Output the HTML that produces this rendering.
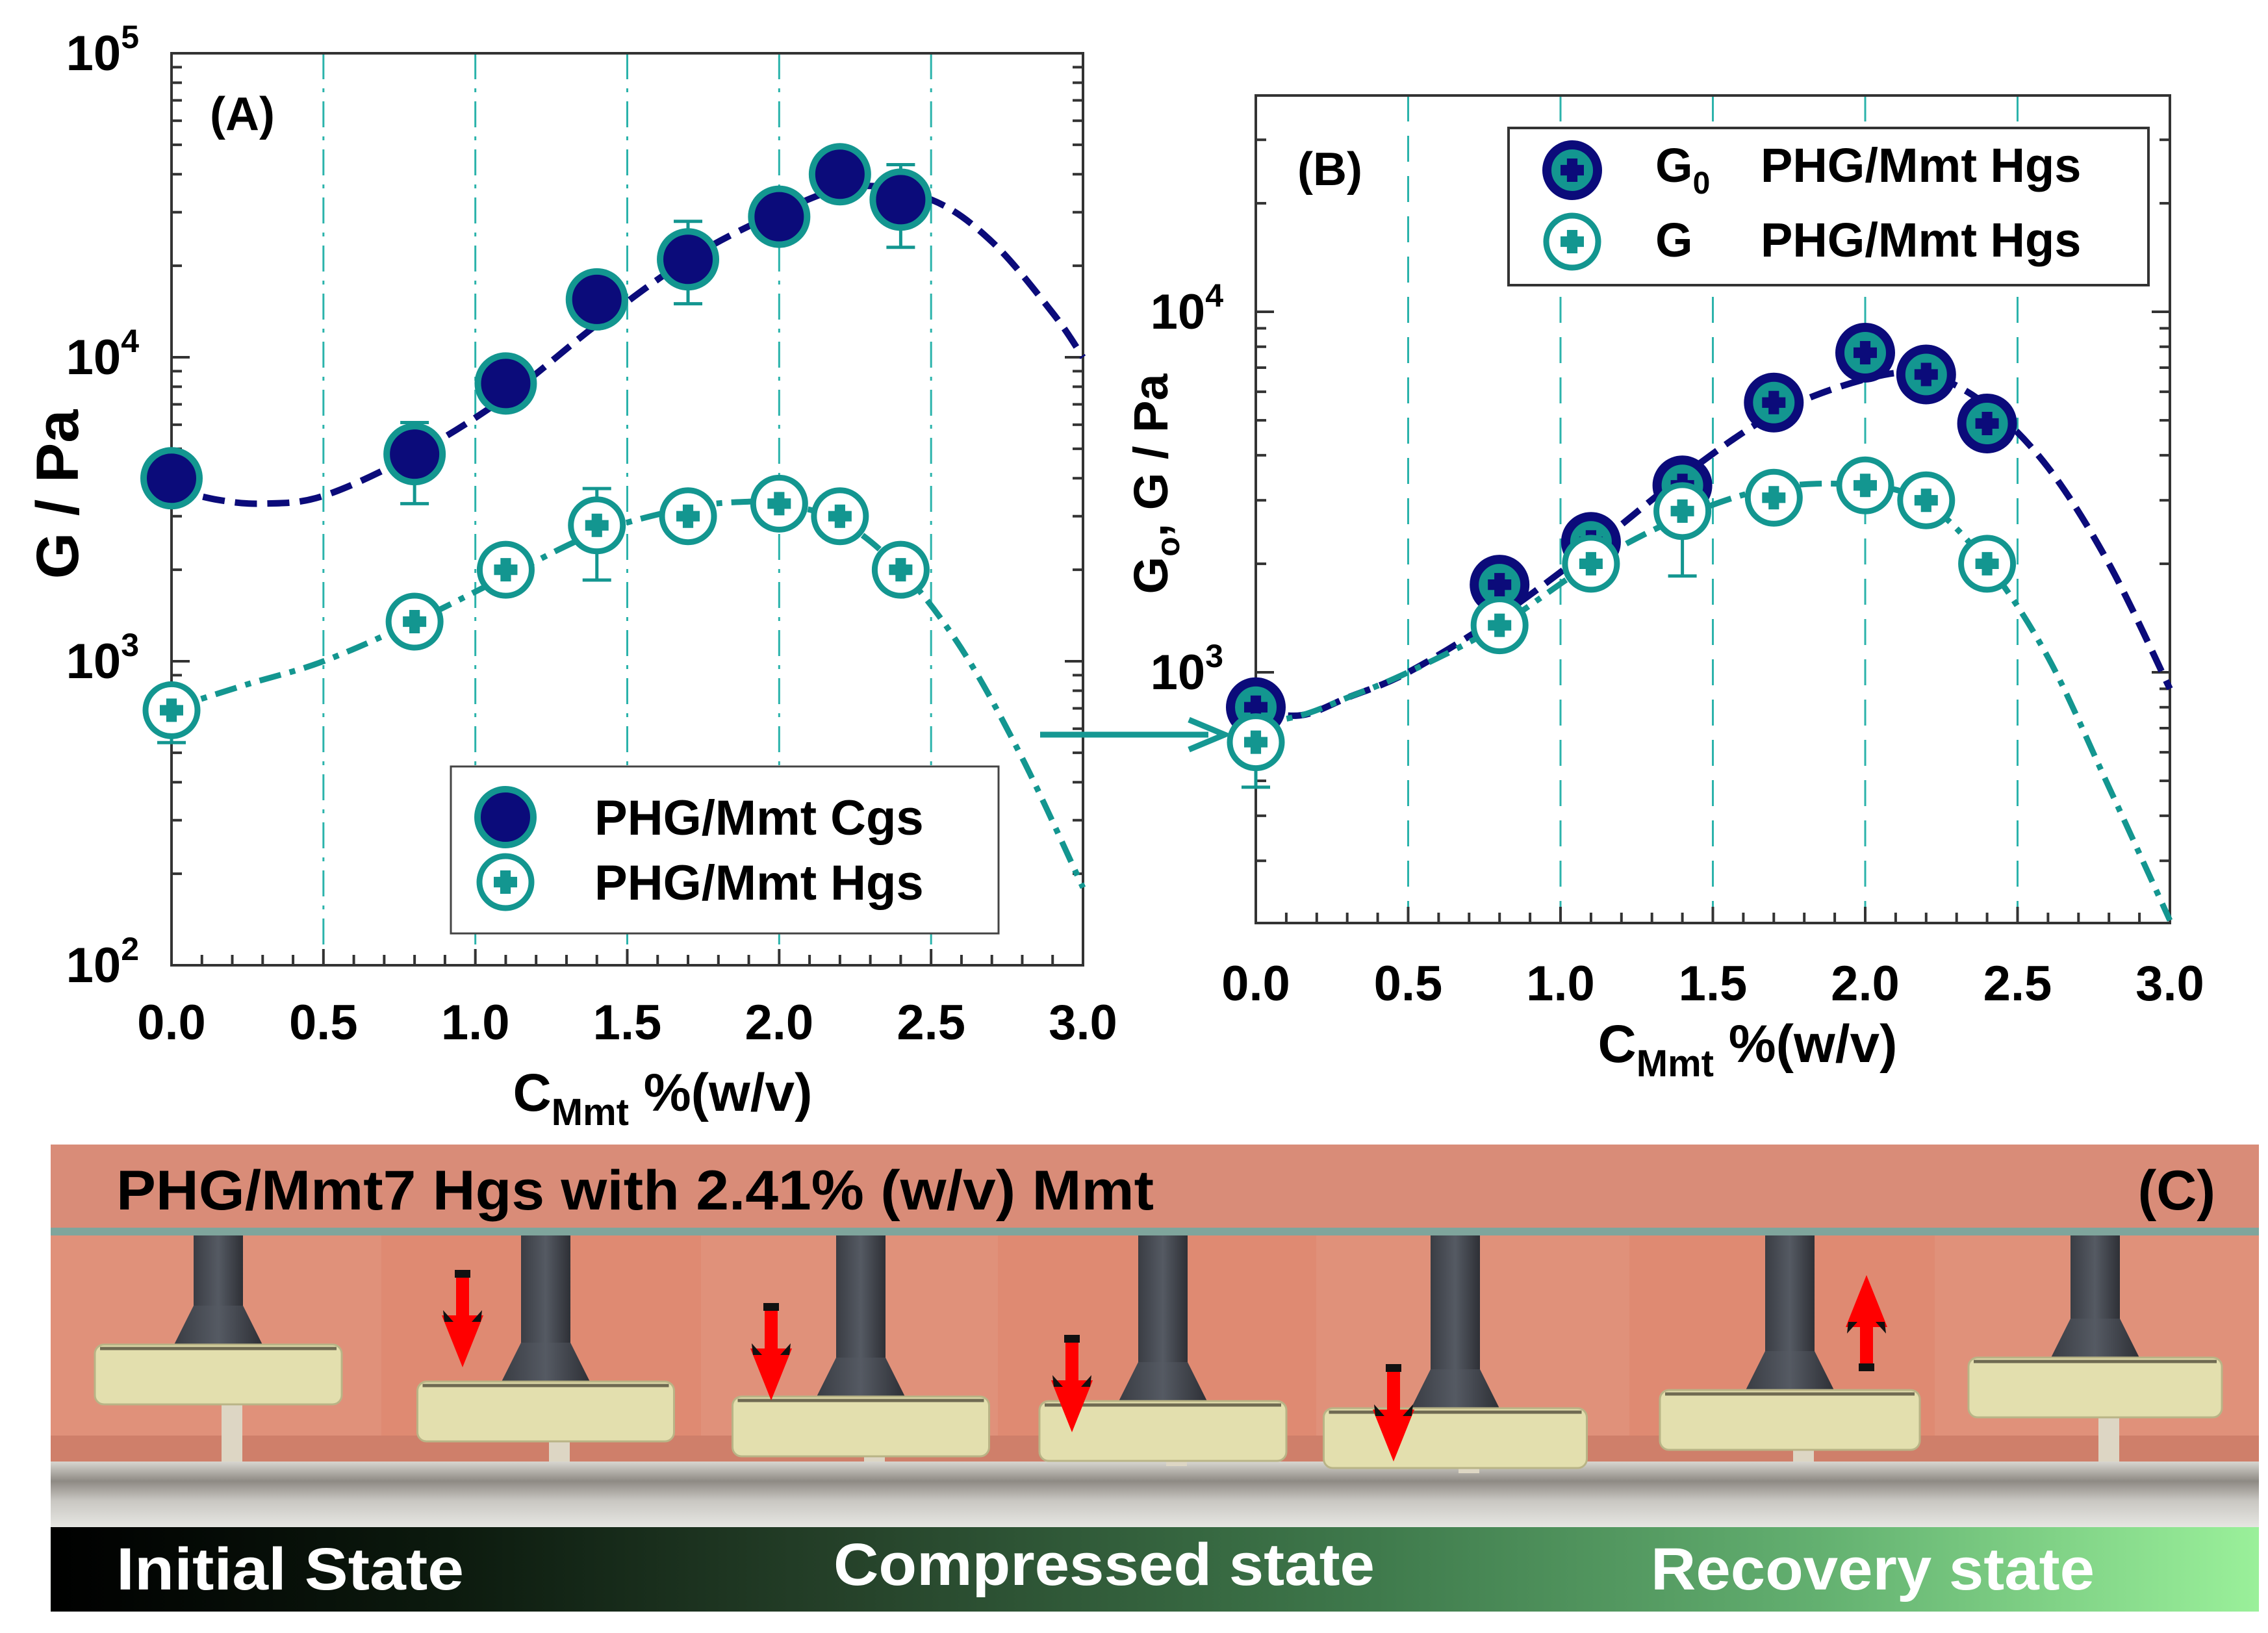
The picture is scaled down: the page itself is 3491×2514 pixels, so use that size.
<!DOCTYPE html>
<html><head><meta charset="utf-8"><style>
html,body{margin:0;padding:0;background:#fff;}
svg{display:block;font-family:"Liberation Sans",Arial,sans-serif;}
</style></head><body>
<svg id="fig" width="3491" height="2514" viewBox="0 0 3491 2514" xmlns="http://www.w3.org/2000/svg">
<defs>
<linearGradient id="barGrad" x1="0" x2="1" y1="0" y2="0">
<stop offset="0" stop-color="#000"/><stop offset="0.18" stop-color="#0c1a0e"/><stop offset="0.35" stop-color="#243f28"/><stop offset="0.6" stop-color="#3f7a4c"/><stop offset="0.8" stop-color="#63b070"/><stop offset="1" stop-color="#9af09a"/>
</linearGradient>
<linearGradient id="baseGrad" x1="0" x2="0" y1="0" y2="1">
<stop offset="0" stop-color="#d8d6d0"/><stop offset="0.3" stop-color="#8e8a84"/><stop offset="0.6" stop-color="#c9c7c2"/><stop offset="1" stop-color="#e6e6e2"/>
</linearGradient>
<linearGradient id="postGrad" x1="0" x2="1" y1="0" y2="0">
<stop offset="0" stop-color="#3a3d44"/><stop offset="0.5" stop-color="#555a63"/><stop offset="1" stop-color="#2e3036"/>
</linearGradient>
</defs>
<g id="chartA"></g>
<g id="chartB"></g>
<g>
<line x1="1601" y1="1131" x2="1860" y2="1131" stroke="#169893" stroke-width="9"/>
<path d="M1830,1108 L1885,1131 L1830,1154" fill="none" stroke="#169893" stroke-width="9"/>
</g>
<g id="panelC">
<rect x="78" y="1762" width="3399" height="135" fill="#d98c78"/>
<text x="179" y="1862" font-size="86" font-weight="bold" fill="#000" textLength="1597" lengthAdjust="spacingAndGlyphs">PHG/Mmt7 Hgs with 2.41% (w/v) Mmt</text>
<text x="3410" y="1862" font-size="86" font-weight="bold" fill="#000" text-anchor="end">(C)</text>
<rect x="78" y="1890" width="3399" height="12" fill="#7fa59c"/>
<g id="frames"></g>
<rect x="78" y="2351" width="3399" height="130" fill="url(#barGrad)"/>
<text x="179" y="2447" font-size="92" font-weight="bold" fill="#fff" textLength="535" lengthAdjust="spacingAndGlyphs">Initial State</text>
<text x="1283" y="2440" font-size="92" font-weight="bold" fill="#fff" textLength="833" lengthAdjust="spacingAndGlyphs">Compressed state</text>
<text x="2541" y="2447" font-size="92" font-weight="bold" fill="#fff" textLength="683" lengthAdjust="spacingAndGlyphs">Recovery state</text>
</g>
</svg>
<script>
// ---------- Chart data ----------
const xTicks = [0.0, 0.5, 1.0, 1.5, 2.0, 2.5, 3.0];
const xTickLabels = ["0.0","0.5","1.0","1.5","2.0","2.5","3.0"];
// Panel A
const aX = [0.0, 0.8, 1.1, 1.4, 1.7, 2.0, 2.2, 2.4];
const aCgs = [4000, 4800, 8200, 15500, 21000, 29000, 40000, 33000];
const aCgsErrLo = [null, 3300, null, null, 15000, null, null, 23000];
const aCgsErrHi = [null, 6100, null, null, 28000, null, null, 43000];
const aHgs = [690, 1350, 2000, 2800, 3000, 3300, 3000, 2000];
const aHgsErrLo = [540, null, null, 1850, null, null, null, null];
const aHgsErrHi = [null, null, null, 3700, null, null, null, null];
const aFitX = [0.0, 0.15, 0.3, 0.5, 0.8, 1.1, 1.4, 1.7, 2.0, 2.25, 2.5, 2.7, 2.9, 3.0];
const aFitCgs = [3700, 3400, 3300, 3500, 4800, 7400, 12800, 21000, 30000, 36500, 33000, 24000, 14000, 10000];
const aFitX2 = [0.0, 0.25, 0.5, 0.8, 1.1, 1.4, 1.7, 1.9, 2.0, 2.2, 2.4, 2.6, 2.8, 3.0];
const aFitHgs = [700, 840, 1000, 1350, 1900, 2650, 3200, 3350, 3300, 2900, 2000, 1100, 480, 180];
const aYTickExp = [2, 3, 4, 5];
// Panel B
const bX = [0.0, 0.8, 1.1, 1.4, 1.7, 2.0, 2.2, 2.4];
const bG0 = [800, 1750, 2300, 3300, 5600, 7700, 6700, 4900];
const bG = [640, 1350, 2000, 2800, 3050, 3300, 3000, 2000];
const bGErrLo = [480, null, null, 1850, null, null, null, null];
const bGErrHi = [null, null, null, null, null, null, null, null];
const bFitX = [0.0, 0.15, 0.3, 0.5, 0.8, 1.1, 1.4, 1.7, 2.0, 2.2, 2.4, 2.6, 2.8, 3.0];
const bFitG0 = [780, 760, 850, 1000, 1430, 2200, 3500, 5200, 6500, 6700, 5500, 3700, 2000, 900];
const bFitG = [720, 760, 850, 1000, 1350, 2000, 2700, 3250, 3300, 2950, 2000, 1100, 480, 205];
const bYTickExp = [3, 4];

const NS = "http://www.w3.org/2000/svg";
const NAVY = "#0b0b7a", TEAL = "#139690";
function el(parent, tag, attrs) {
  const e = document.createElementNS(NS, tag);
  for (const k in attrs) e.setAttribute(k, attrs[k]);
  parent.appendChild(e);
  return e;
}
function makeAxes(cfg) {
  const xs = v => cfg.L + (v - 0) / 3 * (cfg.R - cfg.L);
  const ys = v => cfg.yAt(Math.log10(v));
  return {xs, ys};
}
function smoothPath(pts) {
  let d = "M" + pts[0][0].toFixed(1) + "," + pts[0][1].toFixed(1);
  for (let i = 0; i < pts.length - 1; i++) {
    const p0 = pts[Math.max(0, i - 1)], p1 = pts[i], p2 = pts[i + 1], p3 = pts[Math.min(pts.length - 1, i + 2)];
    const c1 = [p1[0] + (p2[0] - p0[0]) / 6, p1[1] + (p2[1] - p0[1]) / 6];
    const c2 = [p2[0] - (p3[0] - p1[0]) / 6, p2[1] - (p3[1] - p1[1]) / 6];
    d += " C" + c1[0].toFixed(1) + "," + c1[1].toFixed(1) + " " + c2[0].toFixed(1) + "," + c2[1].toFixed(1) + " " + p2[0].toFixed(1) + "," + p2[1].toFixed(1);
  }
  return d;
}
function drawFrame(g, cfg, xs, ys) {
  [0.5, 1.0, 1.5, 2.0, 2.5].forEach(v => {
    const ln = el(g, "line", {x1: xs(v), x2: xs(v), y1: cfg.T, y2: cfg.B, stroke: "#2bb3ab", "stroke-width": 3, "stroke-dasharray": cfg.gridDash});
    
    
  });
  const frame = el(g, "rect", {x: cfg.L, y: cfg.T, width: cfg.R - cfg.L, height: cfg.B - cfg.T, fill: "none", stroke: "#333", "stroke-width": 4});
  
  
  for (let i = 0; i <= 30; i++) {
    const v = i / 10, major = i % 5 === 0;
    el(g, "line", {x1: xs(v), x2: xs(v), y1: cfg.B, y2: cfg.B - (major ? 25 : 16), stroke: "#333", "stroke-width": 4});
  }
  xTicks.forEach((v, i) => {
    const t = el(g, "text", {x: xs(v), y: cfg.tickLabelY, "font-size": 76, "font-weight": "bold", "text-anchor": "middle"});
    t.textContent = xTickLabels[i];
    
    
  });
  for (let e = cfg.eMin; e <= cfg.eMax; e++) {
    for (let m = 1; m <= 9; m++) {
      const v = m * Math.pow(10, e);
      const y = ys(v);
      if (y < cfg.T - 1 || y > cfg.B + 1) continue;
      const len = m === 1 ? 28 : 16;
      el(g, "line", {x1: cfg.L, x2: cfg.L + len, y1: y, y2: y, stroke: "#333", "stroke-width": 4});
      el(g, "line", {x1: cfg.R, x2: cfg.R - len, y1: y, y2: y, stroke: "#333", "stroke-width": 4});
    }
  }
  cfg.yExp.forEach(e => {
    const t = el(g, "text", {x: cfg.L - 50, y: ys(Math.pow(10, e)) + 26, "font-size": 76, "font-weight": "bold", "text-anchor": "end"});
    t.textContent = "10";
    const s = el(t, "tspan", {dy: -34, "font-size": 50});
    s.textContent = String(e);
    
    
  });
}
function errBars(g, xArr, lo, hi, vals, xs, ys, color) {
  xArr.forEach((x, i) => {
    [lo[i], hi[i]].forEach(v => {
      if (v == null) return;
      const l = el(g, "line", {x1: xs(x), x2: xs(x), y1: ys(vals[i]), y2: ys(v), stroke: color, "stroke-width": 5});
      
      
      el(g, "line", {x1: xs(x) - 22, x2: xs(x) + 22, y1: ys(v), y2: ys(v), stroke: color, "stroke-width": 5});
    });
  });
}
function plus(g, cx, cy, color, s) {
  el(g, "path", {d: `M${cx - s},${cy - s * 0.45} h${s * 0.55} v-${s * 0.55} h${s * 0.9} v${s * 0.55} h${s * 0.55} v${s * 0.9} h-${s * 0.55} v${s * 0.55} h-${s * 0.9} v-${s * 0.55} h-${s * 0.55} z`, fill: color});
}
function markerFilled(g, cx, cy) {
  return el(g, "circle", {cx, cy, r: 43, fill: NAVY, stroke: TEAL, "stroke-width": 10});
}
function markerOpen(g, cx, cy) {
  const c = el(g, "circle", {cx, cy, r: 40, fill: "#fff", stroke: TEAL, "stroke-width": 9});
  plus(g, cx, cy, TEAL, 18);
  return c;
}
function markerG0(g, cx, cy) {
  const c = el(g, "circle", {cx, cy, r: 39, fill: TEAL, stroke: NAVY, "stroke-width": 14});
  plus(g, cx, cy, NAVY, 18);
  return c;
}

// ---------- Chart A ----------
(function () {
  const g = document.getElementById("chartA");
  const cfg = {L: 264, R: 1667, T: 82, B: 1486, eMin: 2, eMax: 5, yExp: aYTickExp, tickLabelY: 1600, gridDash: "40 14 6 14"};
  cfg.yAt = l => cfg.B - (l - 2) / 3 * (cfg.B - cfg.T);
  const {xs, ys} = makeAxes(cfg);
  drawFrame(g, cfg, xs, ys);
  const yl = el(g, "text", {x: 0, y: 0, transform: "translate(120,761) rotate(-90)", "font-size": 92, "font-weight": "bold", "text-anchor": "middle"});
  yl.textContent = "G / Pa";
  
  
  const xl = el(g, "text", {x: 1020, y: 1710, "font-size": 82, "font-weight": "bold", "text-anchor": "middle"});
  xl.innerHTML = 'C<tspan dy="22" font-size="58">Mmt</tspan><tspan dy="-22"> %(w/v)</tspan>';
  
  
  const pl = el(g, "text", {x: 323, y: 200, "font-size": 72, "font-weight": "bold"});
  pl.textContent = "(A)";
  
  
  const f1 = el(g, "path", {d: smoothPath(aFitX.map((x, i) => [xs(x), ys(aFitCgs[i])])), fill: "none", stroke: NAVY, "stroke-width": 10, "stroke-dasharray": "34 16"});
  
  
  const f2 = el(g, "path", {d: smoothPath(aFitX2.map((x, i) => [xs(x), ys(aFitHgs[i])])), fill: "none", stroke: TEAL, "stroke-width": 9, "stroke-dasharray": "34 14 9 14"});
  
  
  errBars(g, aX, aCgsErrLo, aCgsErrHi, aCgs, xs, ys, TEAL);
  errBars(g, aX, aHgsErrLo, aHgsErrHi, aHgs, xs, ys, TEAL);
  aX.forEach((x, i) => {
    const m = markerFilled(g, xs(x), ys(aCgs[i]));
    
    
  });
  aX.forEach((x, i) => {
    const m = markerOpen(g, xs(x), ys(aHgs[i]));
    
    
  });
  const lg = el(g, "g", {});
  
  
  el(lg, "rect", {x: 694, y: 1180, width: 843, height: 257, fill: "#fff", stroke: "#444", "stroke-width": 3});
  markerFilled(lg, 778, 1258);
  markerOpen(lg, 778, 1358);
  const t1 = el(lg, "text", {x: 915, y: 1285, "font-size": 76, "font-weight": "bold"});
  t1.textContent = "PHG/Mmt Cgs";
  
  
  const t2 = el(lg, "text", {x: 915, y: 1385, "font-size": 76, "font-weight": "bold"});
  t2.textContent = "PHG/Mmt Hgs";
  
  
})();

// ---------- Chart B ----------
(function () {
  const g = document.getElementById("chartB");
  const cfg = {L: 1933, R: 3340, T: 147, B: 1421, eMin: 2, eMax: 4, yExp: bYTickExp, tickLabelY: 1540, gridDash: "40 22"};
  cfg.yAt = l => 1035 - (l - 3) * 555;
  const {xs, ys} = makeAxes(cfg);
  drawFrame(g, cfg, xs, ys);
  const yl = el(g, "text", {x: 0, y: 0, transform: "translate(1797,745) rotate(-90)", "font-size": 74, "font-weight": "bold", "text-anchor": "middle"});
  yl.innerHTML = 'G<tspan dy="18" font-size="50">o</tspan><tspan dy="-18">, G / Pa</tspan>';
  
  
  const xl = el(g, "text", {x: 2690, y: 1635, "font-size": 82, "font-weight": "bold", "text-anchor": "middle"});
  xl.innerHTML = 'C<tspan dy="22" font-size="58">Mmt</tspan><tspan dy="-22">  %(w/v)</tspan>';
  
  
  const pl = el(g, "text", {x: 1997, y: 285, "font-size": 72, "font-weight": "bold"});
  pl.textContent = "(B)";
  
  
  const f1 = el(g, "path", {d: smoothPath(bFitX.map((x, i) => [xs(x), ys(bFitG0[i])])), fill: "none", stroke: NAVY, "stroke-width": 10, "stroke-dasharray": "34 16"});
  
  
  const f2 = el(g, "path", {d: smoothPath(bFitX.map((x, i) => [xs(x), ys(bFitG[i])])), fill: "none", stroke: TEAL, "stroke-width": 9, "stroke-dasharray": "34 14 9 14"});
  
  
  errBars(g, bX, bGErrLo, bGErrHi, bG, xs, ys, TEAL);
  bX.forEach((x, i) => {
    const m = markerG0(g, xs(x), ys(bG0[i]));
    
    
  });
  bX.forEach((x, i) => {
    const m = markerOpen(g, xs(x), ys(bG[i]));
    
    
  });
  const lg = el(g, "g", {});
  
  
  el(lg, "rect", {x: 2322, y: 197, width: 985, height: 242, fill: "#fff", stroke: "#333", "stroke-width": 4});
  markerG0(lg, 2420, 262);
  markerOpen(lg, 2420, 372);
  const t1 = el(lg, "text", {x: 2548, y: 280, "font-size": 74, "font-weight": "bold"});
  t1.innerHTML = 'G<tspan dy="18" font-size="48">0</tspan><tspan dy="-18" x="2710">PHG/Mmt Hgs</tspan>';
  
  
  const t2 = el(lg, "text", {x: 2548, y: 395, "font-size": 74, "font-weight": "bold"});
  t2.innerHTML = 'G<tspan x="2710">PHG/Mmt Hgs</tspan>';
  
  
})();

// ---------- Photo frames (panel C) ----------
const frameEdges = [78, 587, 1079, 1536, 2026, 2508, 2978, 3477];
const postCx = [336, 840, 1325, 1790, 2240, 2755, 3225];
const diskTop = [2070, 2127, 2150, 2157, 2168, 2140, 2090];
const diskW = [380, 395, 395, 380, 405, 400, 390];
const arrowX = [null, 712, 1187, 1650, 2145, 2873, null];
const arrowY1 = [null, 1955, 2006, 2055, 2100, 1963, null];
const arrowUp = [false, false, false, false, false, true, false];
(function () {
  const g = document.getElementById("frames");
  for (let i = 0; i < 7; i++) {
    const x0 = frameEdges[i], x1 = frameEdges[i + 1];
    const f = el(g, "g", {});
    
    
    el(f, "rect", {x: x0, y: 1902, width: x1 - x0, height: 449, fill: i % 2 ? "#df8a72" : "#e0917a"});
    el(f, "rect", {x: x0, y: 2210, width: x1 - x0, height: 40, fill: "#cf7f6a"});
    el(f, "rect", {x: x0, y: 2250, width: x1 - x0, height: 101, fill: "url(#baseGrad)"});
    const cx = postCx[i], dt = diskTop[i], dw = diskW[i];
    el(f, "rect", {x: cx + 5, y: dt + 90, width: 32, height: Math.max(10, 2250 - dt - 90), fill: "#ddd6c4"});
    el(f, "rect", {x: cx - 38, y: 1902, width: 76, height: dt - 1902 - 55, fill: "url(#postGrad)"});
    el(f, "path", {d: `M${cx - 38},${dt - 60} L${cx + 38},${dt - 60} L${cx + 68},${dt} L${cx - 68},${dt} Z`, fill: "url(#postGrad)"});
    el(f, "rect", {x: cx - dw / 2, y: dt, width: dw, height: 92, rx: 14, fill: "#e3dfae", stroke: "#b9b486", "stroke-width": 3});
    el(f, "line", {x1: cx - dw / 2 + 8, x2: cx + dw / 2 - 8, y1: dt + 6, y2: dt + 6, stroke: "#6f6a52", "stroke-width": 5});
    if (arrowX[i] != null) {
      const ax = arrowX[i], ay = arrowY1[i];
      if (!arrowUp[i]) {
        el(f, "rect", {x: ax - 12, y: ay, width: 24, height: 12, fill: "#111"});
        el(f, "rect", {x: ax - 10, y: ay + 12, width: 20, height: 70, fill: "#f00"});
        el(f, "path", {d: `M${ax - 32},${ay + 70} L${ax + 32},${ay + 70} L${ax},${ay + 150} Z`, fill: "#f00"});
        el(f, "path", {d: `M${ax - 30},${ay + 62} L${ax - 14},${ay + 80} L${ax - 28},${ay + 80} Z M${ax + 30},${ay + 62} L${ax + 14},${ay + 80} L${ax + 28},${ay + 80} Z`, fill: "#111"});
      } else {
        el(f, "path", {d: `M${ax - 32},${ay + 80} L${ax + 32},${ay + 80} L${ax},${ay} Z`, fill: "#f00"});
        el(f, "rect", {x: ax - 10, y: ay + 78, width: 20, height: 60, fill: "#f00"});
        el(f, "rect", {x: ax - 12, y: ay + 136, width: 24, height: 12, fill: "#111"});
        el(f, "path", {d: `M${ax - 30},${ay + 90} L${ax - 14},${ay + 72} L${ax - 28},${ay + 72} Z M${ax + 30},${ay + 90} L${ax + 14},${ay + 72} L${ax + 28},${ay + 72} Z`, fill: "#111"});
      }
    }
  }
})();
</script>
</body></html>
